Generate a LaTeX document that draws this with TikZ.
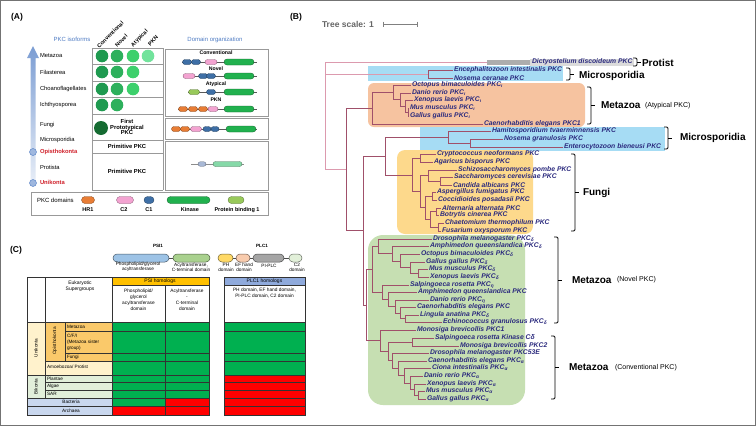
\documentclass[tikz,border=0pt]{standalone}
\usepackage{fontspec}
\setmainfont{Liberation Sans}
\usetikzlibrary{shapes.misc}
\definecolor{hrc}{HTML}{E87D35}
\definecolor{ctwo}{HTML}{F3A3D1}
\definecolor{cone}{HTML}{3E6FA6}
\definecolor{kin}{HTML}{21B14E}
\definecolor{pbo}{HTML}{98C95A}
\definecolor{conep}{HTML}{A9B9D6}
\definecolor{kinp}{HTML}{86D9A8}
\definecolor{gA}{HTML}{1F9A50}
\definecolor{gB}{HTML}{2DB05C}
\definecolor{gC}{HTML}{3DD06C}
\definecolor{gD}{HTML}{72E39C}
\definecolor{gF}{HTML}{156B32}
\definecolor{isoblue}{HTML}{4F7CC4}
\definecolor{redlbl}{HTML}{D0202A}
\definecolor{leafc}{HTML}{2B2A7E}
\definecolor{brc}{HTML}{A0506A}
\definecolor{brp}{HTML}{DC9AAE}
\definecolor{bluebox}{HTML}{A6DCF4}
\definecolor{orbox}{HTML}{F6C3A0}
\definecolor{yebox}{HTML}{FDD98C}
\definecolor{grbox}{HTML}{C6DFB2}
\definecolor{tgreen}{HTML}{00B050}
\definecolor{tred}{HTML}{FF0000}
\definecolor{opis}{HTML}{FAC96A}
\definecolor{unik}{HTML}{FFF2CC}
\definecolor{bik}{HTML}{E2EFDA}
\definecolor{bact}{HTML}{C9D7EE}
\definecolor{psih}{HTML}{FFC000}
\definecolor{plch}{HTML}{8FAADC}
\definecolor{psiblue}{HTML}{9DC3E6}
\definecolor{psigreen}{HTML}{A9D18E}
\definecolor{phy}{HTML}{FFD966}
\definecolor{efp}{HTML}{F8CBAD}
\definecolor{plcg}{HTML}{A5A5A5}
\definecolor{ctwop}{HTML}{E2F0D9}
\newcommand\fsz[1]{\fontsize{#1}{#1}\selectfont}
\tikzset{
 txt/.style={inner sep=0, outer sep=0},
 rowl/.style={txt, anchor=west, font=\fsz{5.8}},
 br/.style={draw=brc, line width=0.45pt},
 brt/.style={draw=brp, line width=0.5pt},
 leaf/.style={txt, anchor=west, font=\fsz{6.8}\bfseries\itshape, text=leafc},
 dom/.style={rounded rectangle, inner sep=0, line width=0.3pt},
 brk/.style={draw=black, line width=0.8pt},
 grp/.style={txt, anchor=west, font=\fsz{10}\bfseries},
 grps/.style={txt, anchor=west, font=\fsz{7}},
 tc/.style={draw=black!80, line width=0.35pt},
 ct/.style={txt, font=\fsz{4.7}, align=center},
 domt/.style={txt, font=\fsz{5.2}\bfseries},
 gbox/.style={draw=black!40, line width=0.6pt},
 dline/.style={draw=black!65, line width=0.5pt},
 colh/.style={txt, anchor=west, rotate=45, font=\fsz{5.5}\bfseries},
}
\newcommand\dm[5]{\node[dom, fill=#5, draw=#5!55!black, minimum width=#3pt, minimum height=#4pt] at (#1,#2) {};}
\newcommand\vl[3]{\draw[br] (#1,#2) -- (#1,#3);}
\newcommand\hl[3]{\draw[br] (#2,#1) -- (#3,#1);}
\newcommand\leaf[4]{\draw[br] (#3,#2) -- ({#1-1},#2); \node[leaf] at (#1,#2) {#4};}
\newcommand\brkt[3]{\draw[brk, rounded corners=1.2pt] ({#1-4},#2) -- (#1,#2) -- (#1,#3) -- ({#1-4},#3); \draw[brk] (#1,{(#2+#3)/2}) -- ({#1+4},{(#2+#3)/2});}
\newcommand\cell[5]{\filldraw[tc, fill=#5] (#1,#2) rectangle (#3,#4);}
\begin{document}
\begin{tikzpicture}[x=1pt,y=-1pt]
\useasboundingbox (0,0) rectangle (756,426);
\fill[white] (0,0) rectangle (756,426);
\draw[black!55, line width=1.2pt] (0.6,0.6) rectangle (755.4,425.4);

%================ PANEL A =================
\node[txt, font=\fsz{8.5}\bfseries] (lA) at (17,17) {(A)};
\node[txt, font=\fsz{6}, text=isoblue] (iso) at (72,39) {PKC isoforms};
\node[txt, font=\fsz{6}, text=isoblue] (dorg) at (215,40) {Domain organization};
\node[colh] (hConv) at (98,47) {Conventional};
\node[colh] (hNov) at (116,46) {Novel};
\node[colh] (hAty) at (132,46) {Atypical};
\node[colh] (hPKN) at (149,45) {PKN};
% axis arrow
\shade[top color=isoblue!75, bottom color=isoblue!12] (30.5,58) -- (27,58) -- (33,46) -- (39,58) -- (35.5,58) -- (35.5,186) -- (30.5,186) -- cycle;
\filldraw[fill=isoblue!55, draw=isoblue, line width=0.4pt] (33,152) circle (3.5pt);
\filldraw[fill=isoblue!55, draw=isoblue, line width=0.4pt] (33,183) circle (3.5pt);
\node[rowl] at (40,56) {Metazoa};
\node[rowl] at (40,72) {Filasterea};
\node[rowl] at (40,89) {Choanoflagellates};
\node[rowl] at (40,105) {Ichthyosporea};
\node[rowl] at (40,125) {Fungi};
\node[rowl] at (40,140) {Microsporidia};
\node[rowl, font=\fsz{5.8}\bfseries, text=redlbl] at (40,152) {Opisthokonta};
\node[rowl] at (40,167) {Protista};
\node[rowl, font=\fsz{5.8}\bfseries, text=redlbl] at (40,182) {Unikonta};
% table A
\draw[black!40, line width=0.5pt] (92,48) -- (92,190) (163,48) -- (163,190);
\foreach \yy in {48,64,81,97,114,140,153,190} \draw[black!40, line width=0.5pt] (92,\yy) -- (163,\yy);
\foreach \yy/\n in {56/4,72/3,89/3,105/2}{
  \fill[gA] (102,\yy) circle (6.3pt);
  \fill[gB] (117,\yy) circle (6.3pt);
  \ifnum\n>2 \fill[gC] (133,\yy) circle (6.3pt);\fi
  \ifnum\n>3 \fill[gD] (148,\yy) circle (6.3pt);\fi
}
\fill[gF] (101,128) circle (7pt);
\node[txt, font=\fsz{5.8}\bfseries, align=center] at (127,127) {First\\[-0.6pt]Prototypical\\[-0.6pt]PKC};
\node[txt, font=\fsz{5.8}\bfseries] at (127,146.5) {Primitive PKC};
\node[txt, font=\fsz{5.8}\bfseries] at (127,171) {Primitive PKC};
% domain boxes
\draw[gbox] (165,49) rectangle (268,116);
\draw[gbox] (165,118) rectangle (268,139);
\draw[gbox] (165,141) rectangle (268,190);
\node[domt] at (216,53) {Conventional};
\draw[dline] (182,62) -- (257,62);
\dm{187}{62}{9}{5}{cone}\dm{196}{62}{9}{5}{cone}\dm{211}{62}{12}{5}{ctwo}\dm{239}{62}{30}{6}{kin}
\node[domt] at (216,69) {Novel};
\draw[dline] (183,76) -- (257,76);
\dm{189}{76}{12}{5}{ctwo}\dm{203}{76}{9}{5}{cone}\dm{211}{76}{9}{5}{cone}\dm{239}{76}{30}{6}{kin}
\node[domt] at (216,84) {Atypical};
\draw[dline] (188,92) -- (257,92);
\dm{194}{92}{11}{5}{pbo}\dm{211}{92}{9}{5}{cone}\dm{239}{92}{30}{6}{kin}
\node[domt] at (216,100) {PKN};
\draw[dline] (178,109) -- (257,109);
\dm{183}{109}{9}{5}{hrc}\dm{193}{109}{9}{5}{hrc}\dm{203}{109}{9}{5}{hrc}\dm{213}{109}{10}{5}{ctwo}\dm{239}{109}{30}{6}{kin}
\draw[dline] (172,129) -- (257,129);
\dm{176}{129}{9}{5}{hrc}\dm{185}{129}{9}{5}{hrc}\dm{196}{129}{11}{5}{ctwo}\dm{207}{129}{8}{5}{cone}\dm{215}{129}{8}{5}{cone}\dm{241}{129}{30}{6}{kin}
\draw[black!45, line width=0.4pt] (191,164) -- (244,164);
\dm{202}{164}{8}{4.5}{conep}\dm{227.5}{164}{29}{5}{kinp}
% legend
\draw[gbox] (31,192) rectangle (268,215);
\node[txt, anchor=west, font=\fsz{6}] at (37,200) {PKC domains};
\dm{88}{200}{13}{7}{hrc}\dm{125}{200}{17}{7}{ctwo}\dm{149}{200}{10}{7}{cone}\dm{188.5}{200}{43}{7}{kin}\dm{236}{200}{16}{7}{pbo}
\node[domt, font=\fsz{5.5}\bfseries] at (88,210) {HR1};
\node[domt, font=\fsz{5.5}\bfseries] at (124,210) {C2};
\node[domt, font=\fsz{5.5}\bfseries] at (149,210) {C1};
\node[domt, font=\fsz{5.5}\bfseries] at (190,210) {Kinase};
\node[domt, font=\fsz{5.5}\bfseries] at (237,210) {Protein binding 1};

%================ PANEL C =================
\node[txt, font=\fsz{8.5}\bfseries] (lC) at (16,250) {(C)};
\node[txt, font=\fsz{4.6}\bfseries] at (158,246) {PSI1};
\node[txt, font=\fsz{4.6}\bfseries] at (262,246) {PLC1};
\draw[black!70, line width=0.5pt] (169,258) -- (173,258);
\node[dom, fill=psiblue, draw=psiblue!45!black, minimum width=56pt, minimum height=8pt, line width=0.5pt] at (141,258) {};
\node[dom, fill=psigreen, draw=psigreen!45!black, minimum width=37pt, minimum height=8pt, line width=0.5pt] at (191.5,258) {};
\draw[black!70, line width=0.5pt] (233,258) -- (236,258) (250,258) -- (253,258) (284,258) -- (289,258);
\node[dom, fill=phy, draw=phy!45!black, minimum width=15pt, minimum height=8pt, line width=0.5pt] at (225.5,258) {};
\node[dom, fill=efp, draw=efp!45!black, minimum width=14pt, minimum height=8pt, line width=0.5pt] at (243,258) {};
\node[dom, fill=plcg, draw=plcg!45!black, minimum width=31pt, minimum height=8pt, line width=0.5pt] at (268.5,258) {};
\node[dom, fill=ctwop, draw=ctwop!45!black, minimum width=13pt, minimum height=8pt, line width=0.5pt] at (295.5,258) {};
\node[ct] at (138,267) {Phospholipid/glycerol\\acyltransferase};
\node[ct] at (191,267) {Acyltransferase,\\C-terminal domain};
\node[ct] at (226,267.5) {PH\\domain};
\node[ct] at (244,267.5) {EF hand\\domain};
\node[ct] at (269,265.5) {PI-PLC};
\node[ct] at (297,267.5) {C2\\domain};
% table C
\cell{27}{277}{45}{322}{white}
\cell{45}{277}{112}{322}{white}
\cell{112}{277}{209}{285}{psih}
\cell{224}{277}{305}{285}{plch}
\cell{112}{285}{165}{322}{white}
\cell{165}{285}{209}{322}{white}
\cell{224}{285}{305}{322}{white}
\node[ct, font=\fsz{5}] at (80,286) {Eukaryotic\\[1pt]Supergroups};
\node[ct, font=\fsz{5}] at (160,281) {PSI homologs};
\node[ct, font=\fsz{5}] at (264.5,281) {PLC1 homologs};
\node[ct, font=\fsz{4.8}] at (138.5,299.5) {Phospholipid/\\[1.3pt]glycerol\\[1.3pt]acyltransferase\\[1.3pt]domain};
\node[ct, font=\fsz{4.8}] at (187,299.5) {Acyltransferase\\[1.3pt]-\\[1.3pt]C-terminal\\[1.3pt]domain};
\node[ct, font=\fsz{4.8}] at (264.5,293) {PH domain, EF hand domain,\\[1.3pt]PI-PLC domain, C2 domain};
\cell{27}{322}{45}{375}{unik}
\cell{45}{322}{65}{361}{opis}
\cell{65}{322}{112}{331}{opis}
\cell{65}{331}{112}{353}{opis}
\cell{65}{353}{112}{361}{opis}
\cell{45}{361}{112}{375}{unik}
\cell{27}{375}{45}{398}{bik}
\cell{45}{375}{112}{382}{bik}
\cell{45}{382}{112}{390}{bik}
\cell{45}{390}{112}{398}{bik}
\cell{27}{398}{112}{406}{bact}
\cell{27}{406}{112}{415}{bact}
\foreach \ya/\yb/\ca/\cb/\cc in {322/331/tgreen/tgreen/tgreen, 331/353/tgreen/tgreen/tgreen, 353/361/tgreen/tgreen/tgreen, 361/375/tgreen/tgreen/tgreen, 375/382/tgreen/tgreen/tred, 382/390/tgreen/tgreen/tred, 390/398/tgreen/tgreen/tred, 398/406/tgreen/tred/tred, 406/415/tred/tred/tred}{
  \cell{112}{\ya}{165}{\yb}{\ca}
  \cell{165}{\ya}{209}{\yb}{\cb}
  \cell{224}{\ya}{305}{\yb}{\cc}
}
\node[txt, font=\fsz{4.7}, rotate=90] at (36,348) {Unikonta};
\node[txt, font=\fsz{4.7}, rotate=90] at (55,341) {Opisthokonta};
\node[txt, font=\fsz{4.7}, rotate=90] at (36,386.5) {Bikonta};
\node[txt, anchor=west, font=\fsz{4.7}] at (67,326.5) {Metazoa};
\node[txt, anchor=west, font=\fsz{4.7}, align=left] at (67,342) {C/F/I\\[1.5pt](Metazoa sister\\[1.5pt]group)};
\node[txt, anchor=west, font=\fsz{4.7}] at (67,357) {Fungi};
\node[txt, anchor=west, font=\fsz{4.7}] at (47,367) {Amoebozoa/ Protist};
\node[txt, anchor=west, font=\fsz{4.7}] at (47,378.5) {Plantae};
\node[txt, anchor=west, font=\fsz{4.7}] at (47,386) {Algae};
\node[txt, anchor=west, font=\fsz{4.7}] at (47,394) {SAR};
\node[txt, font=\fsz{4.7}] at (71,402) {Bacteria};
\node[txt, font=\fsz{4.7}] at (71,410.5) {Archaea};

%================ PANEL B =================
\node[txt, font=\fsz{8.5}\bfseries] (lB) at (296,17) {(B)};
\node[txt, anchor=west, font=\fsz{8.5}\bfseries, text=black!60] at (322,24) {Tree scale: 1};
\draw[black!50, line width=0.5pt] (383,24) -- (417,24) (383,21.5) -- (383,26.5) (417,21.5) -- (417,26.5);
% background boxes
\fill[bluebox] (368,66) rectangle (563,81);
\fill[orbox, rounded corners=6pt] (368,83) rectangle (585,127);
\fill[bluebox] (420,127) rectangle (665,151);
\fill[yebox, rounded corners=8pt] (397,150) rectangle (533,234);
\fill[grbox, rounded corners=15pt] (368,235) rectangle (525,405);
\fill[black!32] (487,59.5) rectangle (530,65);
\fill[black!14] (530,58.5) rectangle (634,66);
% root
\draw[brt] (325,62) -- (325,169);
\draw[brt] (325,62) -- (487,62);
\draw[brt] (325,74) -- (428,74);
\draw[brt] (325,169) -- (346,169);
\node[leaf] at (532,62) {Dictyostelium discoideum PKC};
\vl{428}{70}{78}
\leaf{454}{70}{428}{Encephalitozoon intestinalis PKC}
\leaf{454}{78}{428}{Nosema ceranae PKC}
% atypical
\vl{346}{108}{230}
\hl{108}{346}{372}
\vl{372}{92.25}{124}
\leaf{484}{124}{372}{Caenorhabditis elegans PKC1}
\hl{92.25}{372}{393}
\vl{393}{85}{99.5}
\leaf{412}{85}{393}{Octopus bimaculoides PKC\textsubscript{ι}}
\hl{99.5}{393}{400}
\vl{400}{93}{106}
\leaf{412}{93}{400}{Danio rerio PKC\textsubscript{ι}}
\hl{106}{400}{405}
\vl{405}{100}{112}
\leaf{414}{100}{405}{Xenopus laevis PKC\textsubscript{ι}}
\hl{112}{405}{408}
\vl{408}{108}{116}
\leaf{410}{108}{408}{Mus musculus PKC\textsubscript{ι}}
\leaf{410}{116}{408}{Gallus gallus PKC\textsubscript{ι}}
% micro2 + fungi
\hl{230}{346}{363}
\vl{363}{156}{304.8}
\hl{156}{363}{385}
\vl{385}{137}{175}
\hl{137}{385}{448}
\vl{448}{131}{143}
\leaf{492}{131}{448}{Hamitosporidium tvaerminnensis PKC}
\hl{143}{448}{470}
\vl{470}{139}{147}
\leaf{504}{139}{470}{Nosema granulosis PKC}
\leaf{564}{147}{470}{Enterocytozoon bieneusi PKC}
\hl{175}{385}{412}
\vl{412}{158}{191.5}
\hl{158}{412}{420}
\vl{420}{154}{162}
\leaf{437}{154}{420}{Cryptococcus neoformans PKC}
\leaf{434}{162}{420}{Agaricus bisporus PKC}
\hl{191.5}{412}{420}
\vl{420}{175.5}{207.5}
\hl{175.5}{420}{428}
\vl{428}{170}{181}
\leaf{458}{170}{428}{Schizosaccharomyces pombe PKC}
\hl{181}{428}{440}
\vl{440}{177}{185}
\leaf{454}{177}{440}{Saccharomyces cerevisiae PKC}
\leaf{453}{185}{440}{Candida albicans PKC}
\hl{207.5}{420}{425}
\vl{425}{196}{219}
\hl{196}{425}{432}
\vl{432}{192}{200}
\leaf{437}{192}{432}{Aspergillus fumigatus PKC}
\leaf{438}{200}{432}{Coccidioides posadasii PKC}
\hl{219}{425}{430}
\vl{430}{211.5}{227}
\hl{211.5}{430}{436}
\vl{436}{208}{215}
\leaf{442}{208}{436}{Alternaria alternata PKC}
\leaf{440}{215}{436}{Botrytis cinerea PKC}
\hl{227}{430}{438}
\vl{438}{223}{231}
\leaf{445}{223}{438}{Chaetomium thermophilum PKC}
\leaf{442}{231}{438}{Fusarium oxysporum PKC}
% metazoa novel + conventional
\hl{304.8}{363}{366}
\vl{366}{269}{340.6}
\hl{269}{366}{372}
\vl{372}{246.2}{292.1}
\hl{246.2}{372}{378}
\vl{378}{239}{253.4}
\leaf{433}{239}{378}{Drosophila melanogaster PKC\textsubscript{δ}}
\hl{253.4}{378}{392}
\vl{392}{246}{260.75}
\leaf{430}{246}{392}{Amphimedon queenslandica PKC\textsubscript{δ}}
\hl{260.75}{392}{400}
\vl{400}{254}{267.5}
\leaf{421}{254}{400}{Octopus bimaculoides PKC\textsubscript{δ}}
\hl{267.5}{400}{410}
\vl{410}{262}{273}
\leaf{426}{262}{410}{Gallus gallus PKC\textsubscript{δ}}
\hl{273}{410}{418}
\vl{418}{269}{277}
\leaf{429}{269}{418}{Mus musculus PKC\textsubscript{δ}}
\leaf{430}{277}{418}{Xenopus laevis PKC\textsubscript{δ}}
\hl{292.1}{372}{382}
\vl{382}{285}{299.2}
\leaf{410}{285}{382}{Salpingoeca rosetta PKC\textsubscript{η}}
\hl{299.2}{382}{388}
\vl{388}{292}{306.4}
\leaf{418}{292}{388}{Amphimedon queenslandica PKC}
\hl{306.4}{388}{395}
\vl{395}{300}{312.75}
\leaf{430}{300}{395}{Danio rerio PKC\textsubscript{η}}
\hl{312.75}{395}{400}
\vl{400}{307}{318.5}
\leaf{417}{307}{400}{Caenorhabditis elegans PKC}
\hl{318.5}{400}{405}
\vl{405}{315}{322}
\leaf{420}{315}{405}{Lingula anatina PKC\textsubscript{δ}}
\leaf{443}{322}{405}{Echinococcus granulosus PKC\textsubscript{δ}}
\hl{340.6}{366}{380}
\vl{380}{330}{351.3}
\leaf{417}{330}{380}{Monosiga brevicollis PKC1}
\hl{351.3}{380}{388}
\vl{388}{342}{360.6}
\hl{342}{388}{412}
\vl{412}{338}{346}
\leaf{435}{338}{412}{Salpingoeca rosetta Kinase Cδ}
\leaf{460}{346}{412}{Monosiga brevicollis PKC2}
\hl{360.6}{388}{392}
\vl{392}{353}{368.2}
\leaf{430}{353}{392}{Drosophila melanogaster PKC53E}
\hl{368.2}{392}{398}
\vl{398}{361}{375.4}
\leaf{428}{361}{398}{Caenorhabditis elegans PKC\textsubscript{α}}
\hl{375.4}{398}{404}
\vl{404}{368}{382.75}
\leaf{432}{368}{404}{Ciona intestinalis PKC\textsubscript{α}}
\hl{382.75}{404}{410}
\vl{410}{376}{389.5}
\leaf{424}{376}{410}{Danio rerio PKC\textsubscript{α}}
\hl{389.5}{410}{414}
\vl{414}{384}{395}
\leaf{427}{384}{414}{Xenopus laevis PKC\textsubscript{α}}
\hl{395}{414}{418}
\vl{418}{391}{399}
\leaf{426}{391}{418}{Mus musculus PKC\textsubscript{α}}
\leaf{427}{399}{418}{Gallus gallus PKC\textsubscript{α}}
% brackets and group labels
\brkt{637}{58}{66}
\node[grp] at (642,62.5) {Protist};
\brkt{570}{68}{80}
\node[grp] at (579,75.5) {Microsporidia};
\brkt{591}{87}{124}
\node[grp] at (601,105.5) {Metazoa};
\node[grps] at (645,105.5) {(Atypical PKC)};
\brkt{668}{127}{149}
\node[grp] at (680,138) {Microsporidia};
\brkt{575}{154}{231}
\node[grp] at (583,192.5) {Fungi};
\brkt{558}{237}{323}
\node[grp] at (572,280) {Metazoa};
\node[grps] at (617,280) {(Novel PKC)};
\brkt{555}{336}{399}
\node[grp] at (569,367.5) {Metazoa};
\node[grps] at (615,367.5) {(Conventional PKC)};
\end{tikzpicture}
\end{document}
